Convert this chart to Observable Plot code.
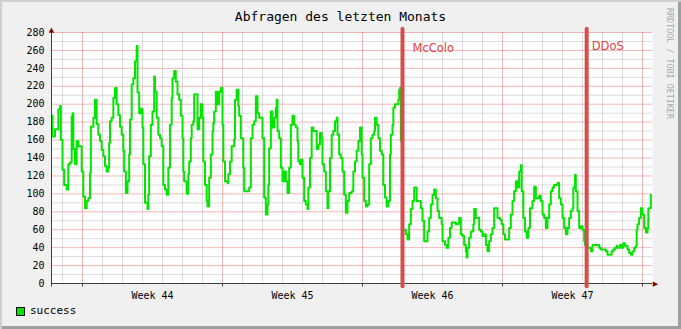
<!DOCTYPE html>
<html>
<head>
<meta charset="utf-8">
<script src="https://cdn.jsdelivr.net/npm/d3@7"></script>
<script src="https://cdn.jsdelivr.net/npm/@observablehq/plot@0.6"></script>
<style>
  html, body { margin: 0; padding: 0; background: #f0f0f0; }
  #chart {
    position: relative; width: 681px; height: 329px; overflow: hidden;
    background: #f0f0f0;
    box-shadow: inset 2px 2px 0 #cfcfcf, inset -3px -3px 0 #9e9e9e;
  }
  #chart svg { position: absolute; left: 0; top: 0; }
  .title {
    position: absolute; left: 0; top: 10px; width: 681px; text-align: center;
    font: 13px/1 "DejaVu Sans Mono", monospace; color: #000;
  }
  .credit {
    position: absolute; left: 666px; top: 8px; writing-mode: vertical-rl;
    font: 8.4px/1 "DejaVu Sans Mono", monospace; color: #aaaaaa; white-space: nowrap;
  }
  .swatch {
    position: absolute; left: 16px; top: 307px; width: 7px; height: 7px;
    border: 1px solid #000; background: #00e600;
  }
  .legend {
    position: absolute; left: 30px; top: 305px;
    font: 11px/1 "DejaVu Sans Mono", monospace; color: #000;
  }
</style>
</head>
<body>
<div id="chart">
  <div class="title">Abfragen des letzten Monats</div>
  <div class="credit">RRDTOOL / TOBI OETIKER</div>
  <div class="swatch"></div>
  <div class="legend">success</div>
</div>
<script>
// hours since Monday 2008-10-27 00:00 UTC (start of ISO week 44), value
const success = [
  [-37,187],[-36,164],[-33,172],[-31,172],[-29,194],[-27,198],[-26,160],[-24,127],[-22,110],[-19,105],
  [-17,133],[-15,135],[-13,186],[-12,190],[-11,150],[-9,133],[-7,159],[-5,153],[-2,153],[-1,125],
  [1,97],[3,84],[5,92],[7,95],[9,123],[10,175],[13,185],[15,205],[17,178],[19,166],
  [21,159],[23,149],[25,142],[27,131],[29,125],[31,129],[32,157],[33,181],[35,185],[37,207],
  [39,218],[41,200],[43,188],[45,175],[47,166],[49,148],[50,125],[52,101],[54,114],[56,144],
  [57,183],[59,222],[61,229],[63,248],[65,265],[66,213],[68,190],[70,195],[72,174],[73,133],
  [75,90],[78,83],[79,99],[80,142],[82,177],[84,192],[86,231],[87,214],[89,185],[91,166],
  [93,162],[95,153],[97,110],[99,105],[101,99],[103,129],[105,177],[107,207],
  [108,229],[110,237],[112,225],[114,211],[116,205],[118,187],[120,162],[121,125],[122,114],[125,100],
  [127,122],[128,136],[130,162],[131,177],[133,181],[134,211],[136,211],[138,172],[140,185],[142,200],
  [144,185],[145,136],[147,110],[149,92],[150,86],[152,118],[154,144],[156,170],[157,179],[158,192],
  [160,214],[162,200],[164,214],[166,218],[168,177],[169,136],[171,114],[174,112],[175,122],[177,136],
  [179,153],[182,161],[183,205],[185,216],[187,198],[188,187],[190,162],[192,162],[193,129],[194,103],
  [198,103],[200,107],[202,162],[204,177],[206,181],[208,209],[210,190],[212,185],[214,185],[216,162],
  [218,96],[220,77],[222,88],[223,110],[224,151],[226,192],[228,174],[230,185],[232,196],[233,205],
  [234,170],[236,162],[238,129],[240,114],[242,125],[244,114],[246,101],[248,129],[250,177],[252,187],
  [254,177],[256,174],[258,159],[259,136],[261,133],[262,138],[264,118],[266,92],[268,88],[270,83],
  [271,107],[273,140],[275,174],[277,170],[279,170],[281,150],[283,155],[285,168],[287,162],[288,133],
  [290,125],[292,103],[294,84],[295,103],[297,140],[299,166],[301,170],[303,181],[305,185],[306,166],
  [308,144],[310,140],[312,125],[314,99],[316,79],[318,92],[320,101],[323,103],[325,125],[327,136],
  [329,148],[331,159],[333,174],[335,144],[336,118],[338,92],[340,86],[342,88],[344,133],[346,162],
  [348,166],[350,170],[351,185],[353,177],[355,162],[357,148],[359,144],[361,110],[363,96],[365,86],
  [367,92],[369,144],[370,166],[372,177],[373,196],[375,200],[377,200],[379,205],[380,216],[381,218],
  [382,159],[384,60],[388,55],[390,49],[392,66],[394,83],[396,92],[398,107],[401,92],[404,92],
  [406,84],[408,70],[410,47],[413,47],[414,58],[416,73],[418,88],[420,99],[422,105],[424,95],
  [426,81],[428,73],[431,66],[432,47],[435,43],[437,40],[439,51],[441,62],[443,68],[446,68],
  [448,66],[451,68],[452,73],[454,55],[456,53],[458,43],[460,36],[461,29],[462,40],[464,51],
  [466,58],[469,66],[470,83],[472,73],[474,73],[476,60],[478,58],[480,53],[482,55],[484,43],
  [486,36],[488,47],[490,55],[492,62],[494,84],[497,84],[498,73],[501,71],[503,66],[505,55],
  [507,49],[510,49],[512,62],[514,77],[516,92],[518,103],[520,114],[522,107],[524,125],[526,132],
  [527,103],[529,73],[531,58],[533,51],[535,62],[537,84],[540,92],[542,108],[544,95],[546,95],
  [548,98],[550,92],[552,77],[554,73],[556,62],[558,73],[560,88],[562,103],[564,107],[566,110],
  [568,110],[570,112],[572,95],[574,88],[576,73],[578,62],[580,55],[582,62],[584,73],[586,81],
  [588,84],[589,107],[591,121],[592,103],[594,81],[596,62],[598,64],[600,60],[602,47],[603,43],
  [606,40],[610,36],[612,43],[616,43],[618,43],[620,40],[622,38],[626,38],[628,36],[630,32],
  [633,32],[635,36],[637,38],[639,40],[641,42],[642,40],[645,43],[647,40],[649,45],[651,42],
  [654,38],[656,34],[658,32],[660,36],[662,40],[664,42],[665,60],[666,66],[668,73],[670,84],
  [672,77],[674,62],[676,57],[678,62],[679,84],[680,84],[682,99]
];
const weekLabels = ["Week 44", "Week 45", "Week 46", "Week 47"];
const weekLabelHours = [84, 252, 420, 588];
const yMajorTicks = [0, 20, 40, 60, 80, 100, 120, 140, 160, 180, 200, 220, 240, 260, 280];
const yMinorTicks = [10, 30, 50, 70, 90, 110, 130, 150, 170, 190, 210, 230, 250, 270];
const eventNames = ["McColo", "DDoS"];
const eventHours = [384, 605];
const domainHours = [-37.2, 684];

const base = Date.UTC(2008, 9, 27);
const toDate = h => new Date(base + h * 3600e3);

const data = success.map(([h, v]) => ({date: toDate(h), value: v}));
const events = eventNames.map((name, i) => ({name, date: toDate(eventHours[i])}));
const start = toDate(domainHours[0]);
const end = toDate(domainHours[1]);
const mondays = d3.utcMonday.range(start, end);
const days = d3.utcDay.range(start, end).filter(d => d.getUTCDay() !== 1);
const weekTickDates = weekLabelHours.map(toDate);

const plot = Plot.plot({
  width: 681,
  height: 329,
  marginLeft: 51,
  marginRight: 29,
  marginTop: 32,
  marginBottom: 46,
  style: {background: "transparent", overflow: "visible", fontFamily: "DejaVu Sans Mono", fontSize: "10px", color: "#000"},
  x: {
    type: "utc", domain: [start, end], label: null,
    ticks: weekTickDates, tickSize: 0, tickPadding: 8,
    tickFormat: d => weekLabels[weekTickDates.findIndex(t => +t === +d)]
  },
  y: {
    domain: [0, 280], label: null,
    ticks: yMajorTicks, tickSize: 0, tickPadding: 7
  },
  marks: [
    Plot.frame({fill: "white", stroke: null}),
    Plot.ruleY(yMinorTicks, {stroke: "#8f8f8f", strokeOpacity: 0.3}),
    Plot.ruleX(days, {stroke: "#8f8f8f", strokeOpacity: 0.3}),
    Plot.ruleY(yMajorTicks, {stroke: "#e85353", strokeOpacity: 0.42}),
    Plot.ruleX(mondays, {stroke: "#e85353", strokeOpacity: 0.42}),
    Plot.ruleX(mondays, {y1: 0, y2: -3.8, stroke: "#404040"}),
    Plot.line(data, {x: "date", y: "value", stroke: "#00e600", strokeWidth: 2, curve: "step-after"}),
    Plot.ruleY([0], {stroke: "#404040"}),
    Plot.ruleX([start], {y1: -4, y2: 280, stroke: "#404040"}),
    Plot.text([start], {x: d => d, y: () => 280, text: () => "▲", dy: -3, fontSize: 7, fontFamily: "DejaVu Sans", fill: "#7f0000"}),
    Plot.text([end], {x: d => d, y: () => 0, text: () => "▶", dx: 3, fontSize: 7, fontFamily: "DejaVu Sans", fill: "#7f0000"}),
    Plot.ruleX(events, {x: "date", y1: 283.5, y2: -3.5, stroke: "#d94c4c", strokeWidth: 4, strokeLinecap: "round"}),
    Plot.text(events.slice(0, 1), {x: "date", y: () => 262, text: "name", textAnchor: "start", dx: 10, fontSize: 11.5, fontFamily: "DejaVu Sans", fill: "#dd4444"}),
    Plot.text(events.slice(1, 2), {x: "date", y: () => 265, text: "name", textAnchor: "start", dx: 5, fontSize: 11.5, fontFamily: "DejaVu Sans", fill: "#dd4444"})
  ]
});
document.getElementById("chart").appendChild(plot);
</script>
</body>
</html>
